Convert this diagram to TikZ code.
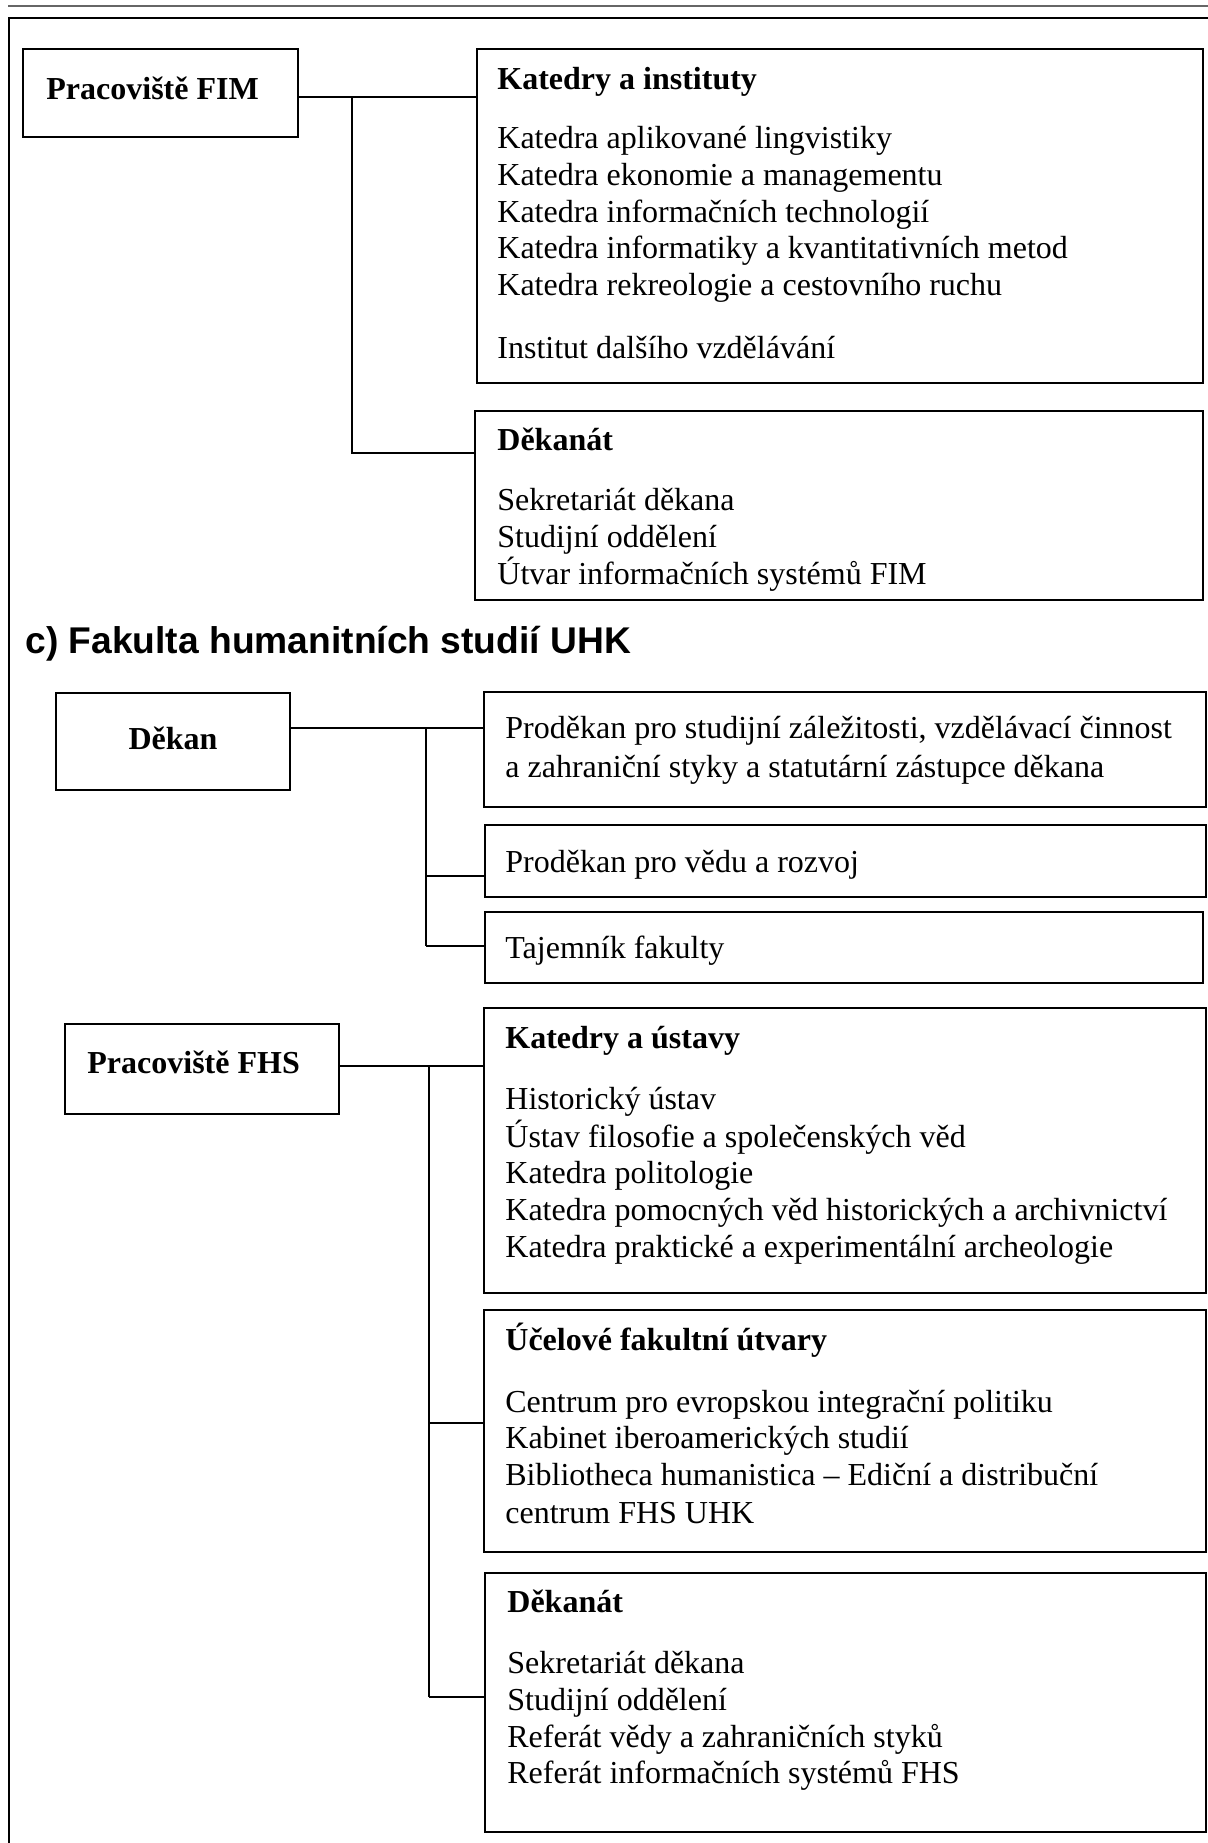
\documentclass[tikz,border=0pt]{standalone}
\usepackage{fontspec}
\setmainfont{Liberation Serif}
\newfontfamily\arialfam{Liberation Sans}
\usetikzlibrary{fit}
\newcommand\bodysz{\fontsize{16}{18}\selectfont}
\tikzset{
  box/.style={draw, line width=1.25pt, inner sep=0pt},
  conn/.style={line width=1.1pt},
  vconn/.style={line width=0.8pt},
  txt/.style={anchor=base west, inner sep=0pt, font=\bodysz},
  hd/.style={anchor=base west, inner sep=0pt, font=\bodysz\bfseries},
  sanshd/.style={anchor=base west, inner sep=0pt, font=\arialfam\fontsize{18.6}{22}\selectfont\bfseries},
}
\begin{document}
\begin{tikzpicture}[x=0.5pt,y=-0.5pt]
\useasboundingbox (0,0) rectangle (1208,1843);
% page rules and frame
\draw[black!60, line width=0.75pt] (8,6) -- (1208,6);
\draw[line width=1pt] (9,1843) -- (9,17.5) -- (1208,17.5);

% ---------- FIM ----------
\node[box, fit={(23,49) (298,137)}] (fim) {};
\node[hd] (fimt) at (46,99) {Pracoviště FIM};

\node[box, fit={(477,49) (1203,383)}] (kat) {};
\node[hd]  (k0) at (497,89)  {Katedry a instituty};
\node[txt] (k1) at (497,148) {Katedra aplikované lingvistiky};
\node[txt] (k2) at (497,185) {Katedra ekonomie a managementu};
\node[txt] (k3) at (497,222) {Katedra informačních technologií};
\node[txt] (k4) at (497,258) {Katedra informatiky a kvantitativních metod};
\node[txt] (k5) at (497,295) {Katedra rekreologie a cestovního ruchu};
\node[txt] (k6) at (497,358) {Institut dalšího vzdělávání};

\node[box, fit={(475,411) (1203,600)}] (dekfim) {};
\node[hd]  (d0) at (497,450) {Děkanát};
\node[txt] (d1) at (497,510) {Sekretariát děkana};
\node[txt] (d2) at (497,547) {Studijní oddělení};
\node[txt] (d3) at (497,584) {Útvar informačních systémů FIM};

\coordinate (j1) at (352,97);
\coordinate (j1b) at (352,453);
\draw[conn] (fim.east |- j1) -- (kat.west |- j1);
\draw[conn] (j1) -- (j1b) -- (dekfim.west |- j1b);

% ---------- section heading ----------
\node[sanshd] (sec) at (25,653) {c) Fakulta humanitních studií UHK};

% ---------- Dekan ----------
\node[box, fit={(56,693) (290,790)}] (dek) {};
\node[anchor=base, inner sep=0pt, font=\bodysz\bfseries] (dekt) at (173,749) {Děkan};

\node[box, fit={(484,692) (1206,807)}] (p1) {};
\node[txt] (p1a) at (505,738) {Proděkan pro studijní záležitosti, vzdělávací činnost};
\node[txt] (p1b) at (505,777) {a zahraniční styky a statutární zástupce děkana};
\node[box, fit={(485,825) (1206,897)}] (p2) {};
\node[txt] (p2a) at (505,872) {Proděkan pro vědu a rozvoj};
\node[box, fit={(485,912) (1203,983)}] (p3) {};
\node[txt] (p3a) at (505,958) {Tajemník fakulty};

\coordinate (j2) at (426,728);
\coordinate (j2b) at (426,876);
\coordinate (j2c) at (426,946);
\draw[conn] (dek.east |- j2) -- (p1.west |- j2);
\draw[vconn] (j2) -- (j2c);
\draw[conn] (j2b) -- (p2.west |- j2b);
\draw[conn] (j2c) -- (p3.west |- j2c);

% ---------- FHS ----------
\node[box, fit={(65,1024) (339,1114)}] (fhs) {};
\node[hd] (fhst) at (87,1073) {Pracoviště FHS};

\node[box, fit={(484,1008) (1206,1293)}] (kus) {};
\node[hd]  (u0) at (505,1048) {Katedry a ústavy};
\node[txt] (u1) at (505,1109) {Historický ústav};
\node[txt] (u2) at (505,1147) {Ústav filosofie a společenských věd};
\node[txt] (u3) at (505,1183) {Katedra politologie};
\node[txt] (u4) at (505,1220) {Katedra pomocných věd historických a archivnictví};
\node[txt] (u5) at (505,1257) {Katedra praktické a experimentální archeologie};

\node[box, fit={(484,1310) (1206,1552)}] (uce) {};
\node[hd]  (c0) at (505,1350) {Účelové fakultní útvary};
\node[txt] (c1) at (505,1412) {Centrum pro evropskou integrační politiku};
\node[txt] (c2) at (505,1448) {Kabinet iberoamerických studií};
\node[txt] (c3) at (505,1485) {Bibliotheca humanistica – Ediční a distribuční};
\node[txt] (c4) at (505,1523) {centrum FHS UHK};

\node[box, fit={(485,1573) (1206,1832)}] (dfhs) {};
\node[hd]  (e0) at (507,1612) {Děkanát};
\node[txt] (e1) at (507,1673) {Sekretariát děkana};
\node[txt] (e2) at (507,1710) {Studijní oddělení};
\node[txt] (e3) at (507,1747) {Referát vědy a zahraničních styků};
\node[txt] (e4) at (507,1783) {Referát informačních systémů FHS};

\coordinate (j3) at (429,1066);
\coordinate (j3b) at (429,1423);
\coordinate (j3c) at (429,1697);
\draw[conn] (fhs.east |- j3) -- (kus.west |- j3);
\draw[vconn] (j3) -- (j3c);
\draw[conn] (j3b) -- (uce.west |- j3b);
\draw[conn] (j3c) -- (dfhs.west |- j3c);
\end{tikzpicture}
\end{document}
